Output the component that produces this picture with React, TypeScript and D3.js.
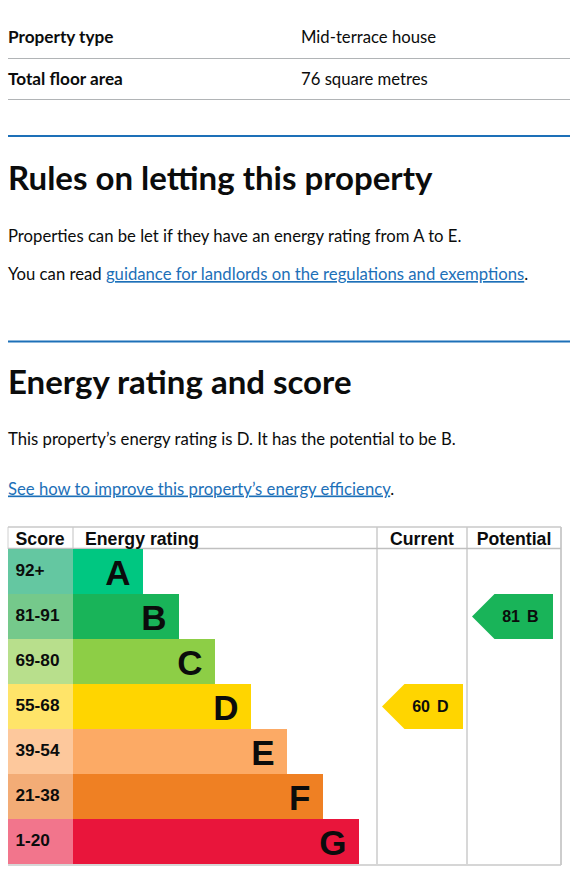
import React from "react";
import * as d3 from "d3";

const bands = ["A", "B", "C", "D", "E", "F", "G"];
const scoreRanges = ["92+", "81-91", "69-80", "55-68", "39-54", "21-38", "1-20"];
const bandMins = [92, 81, 69, 55, 39, 21, 1];
const bandColors = ["#00c781", "#19b459", "#8dce46", "#ffd500", "#fcaa65", "#ef8023", "#e9153b"];
const scoreColors = ["#64c7a1", "#75c98b", "#b8df8c", "#ffe469", "#fdc89c", "#f3ac76", "#f2758c"];
const columns = ["Current", "Potential"];
const ratings = [60, 81];

const summaryLabels = ["Property type", "Total floor area"];
const summaryValues = ["Mid-terrace house", "76 square metres"];

const BODY_FONT = "Lato, 'Noto Sans', Arial, sans-serif";
const CHART_FONT = "'Liberation Sans', Arial, sans-serif";
const INK = "#0b0c0c";
const LINK = "#1d70b8";

export default function App() {
  const W = 570;
  const H = 891;

  // chart geometry
  const chartLeft = 8;
  const chartRight = 561;
  const chartTop = 527;
  const headerBottom = 549;
  const chartBottom = 864;
  const scoreRight = 73;
  const currentLeft = 377;
  const potentialLeft = 467;

  const y = d3.scaleBand<string>().domain(bands).range([headerBottom, chartBottom]).paddingInner(0);
  const barEnd = d3.scaleLinear().domain([0, bands.length - 1]).range([143, 359]);
  const colX = d3.scaleOrdinal<string, number>().domain(columns).range([currentLeft, potentialLeft]);
  const bandOf = (score: number) => bands[bandMins.findIndex((m) => score >= m)];

  const rh = y.bandwidth();
  const arrowW = 81;
  const tip = rh / 2;
  const bodySize = 16.7;

  return (
    <>
      <style>{`body{margin:0;overflow:hidden;background:#fff}`}</style>
      <svg width={W} height={H} style={{ position: "absolute", left: 0, top: 0, display: "block" }}>
        {/* summary table */}
        {summaryLabels.map((lab, i) => (
          <g key={lab}>
            <text x={8} y={43 + i * 41.5} fontFamily={BODY_FONT} fontWeight={700} fontSize={17.2} fill={INK}>
              {lab}
            </text>
            <text x={301} y={43 + i * 41.5} fontFamily={BODY_FONT} fontSize={bodySize} fill={INK}>
              {summaryValues[i]}
            </text>
            <line x1={8} x2={W} y1={58.5 + i * 41} y2={58.5 + i * 41} stroke="#b1b4b6" strokeWidth={1} />
          </g>
        ))}

        {/* section 1 */}
        <rect x={8} y={135} width={W - 8} height={2} fill={LINK} />
        <text x={8} y={190} fontFamily={BODY_FONT} fontWeight={700} fontSize={33} fill={INK}>
          Rules on letting this property
        </text>
        <text x={8} y={241.5} fontFamily={BODY_FONT} fontSize={bodySize} fill={INK}>
          Properties can be let if they have an energy rating from A to E.
        </text>
        <text x={8} y={280} fontFamily={BODY_FONT} fontSize={bodySize} fill={INK}>
          You can read{" "}
          <tspan fill={LINK} textDecoration="underline">
            guidance for landlords on the regulations and exemptions
          </tspan>
          .
        </text>

        {/* section 2 */}
        <rect x={8} y={340.5} width={W - 8} height={2} fill={LINK} />
        <text x={8} y={394} fontFamily={BODY_FONT} fontWeight={700} fontSize={33} fill={INK}>
          Energy rating and score
        </text>
        <text x={8} y={444.5} fontFamily={BODY_FONT} fontSize={bodySize} fill={INK}>
          This property’s energy rating is D. It has the potential to be B.
        </text>
        <text x={8} y={494.5} fontFamily={BODY_FONT} fontSize={bodySize} fill={INK}>
          <tspan fill={LINK} textDecoration="underline">
            See how to improve this property’s energy efficiency
          </tspan>
          .
        </text>

        {/* EPC chart */}
        <g fontFamily={CHART_FONT}>
          {/* column dividers */}
          <line x1={scoreRight} x2={scoreRight} y1={chartTop} y2={headerBottom} stroke="#d6d6d6" strokeWidth={1.5} />
          {columns.map((c) => (
            <line key={c} x1={colX(c)} x2={colX(c)} y1={chartTop} y2={chartBottom} stroke="#d8d8d8" strokeWidth={2} />
          ))}
          <line x1={chartLeft} x2={chartLeft} y1={chartTop} y2={headerBottom} stroke="#d0d0d0" strokeWidth={1} />
          <line x1={chartRight} x2={chartRight} y1={chartTop} y2={chartBottom + 1} stroke="#bdbdbd" strokeWidth={1.5} />
          <line x1={chartLeft} x2={chartRight} y1={chartTop} y2={chartTop} stroke="#c8c8c8" strokeWidth={1.5} />
          <line x1={chartLeft} x2={chartRight} y1={headerBottom - 0.5} y2={headerBottom - 0.5} stroke="#c0c0c0" strokeWidth={1.5} />
          <line x1={chartLeft} x2={chartRight} y1={chartBottom + 1} y2={chartBottom + 1} stroke="#c8c8c8" strokeWidth={1.5} />

          {/* header */}
          <text x={15.5} y={545} fontWeight={700} fontSize={17.7} fill={INK}>Score</text>
          <text x={85} y={545} fontWeight={700} fontSize={17.7} fill={INK}>Energy rating</text>
          {columns.map((c, i) => (
            <text
              key={c}
              x={(colX(c) + (i === columns.length - 1 ? chartRight : colX(columns[i + 1]))) / 2}
              y={545}
              textAnchor="middle"
              fontWeight={700}
              fontSize={17.7}
              fill={INK}
            >
              {c}
            </text>
          ))}

          {/* bands */}
          {bands.map((b, i) => (
            <g key={b}>
              <rect x={chartLeft} y={y(b)} width={scoreRight - chartLeft} height={rh} fill={scoreColors[i]} />
              <rect x={scoreRight} y={y(b)} width={barEnd(i) - scoreRight} height={rh} fill={bandColors[i]} />
              <text x={15.5} y={(y(b) as number) + 27} fontWeight={700} fontSize={17.2} fill={INK}>
                {scoreRanges[i]}
              </text>
              <text x={barEnd(i) - 12.5} y={(y(b) as number) + 35.5} textAnchor="end" fontWeight={700} fontSize={35} fill={INK}>
                {b}
              </text>
            </g>
          ))}

          {/* rating arrows */}
          {columns.map((c, i) => {
            const band = bandOf(ratings[i]);
            const bi = bands.indexOf(band);
            const top = y(band) as number;
            const left = colX(c) + 5;
            const right = left + arrowW;
            const path = d3.path();
            path.moveTo(left, top + rh / 2);
            path.lineTo(left + tip, top);
            path.lineTo(right, top);
            path.lineTo(right, top + rh);
            path.lineTo(left + tip, top + rh);
            path.closePath();
            return (
              <g key={c}>
                <path d={path.toString()} fill={bandColors[bi]} />
                <text x={right - 33} y={top + 28} textAnchor="end" fontWeight={700} fontSize={16} fill={INK}>
                  {ratings[i]}
                </text>
                <text x={right - 26} y={top + 28} fontWeight={700} fontSize={16} fill={INK}>
                  {band}
                </text>
              </g>
            );
          })}
        </g>
      </svg>
    </>
  );
}
